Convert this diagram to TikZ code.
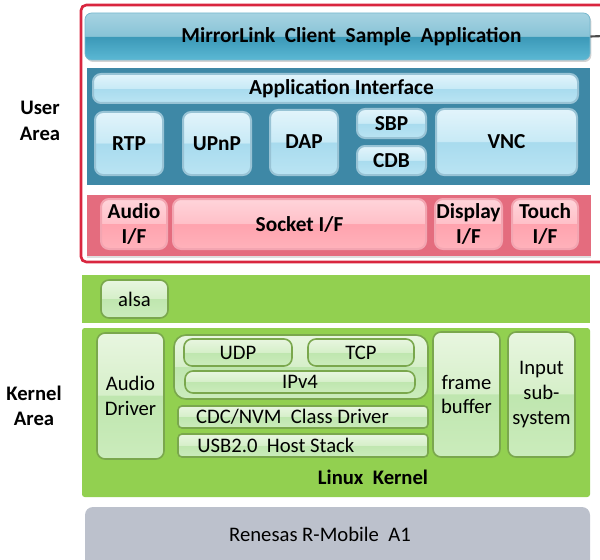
\documentclass[tikz,border=0pt]{standalone}
\usepackage{fontspec}
\setmainfont{Carlito}
\usetikzlibrary{shadows}

\definecolor{barA}{HTML}{A6D3E2}
\definecolor{barB}{HTML}{88C3D6}
\definecolor{barC}{HTML}{3B98B7}
\definecolor{barD}{HTML}{5BB8D4}
\definecolor{bluA}{HTML}{E2F4FB}
\definecolor{bluB}{HTML}{C8EAF6}
\definecolor{bluC}{HTML}{A8DBEE}
\definecolor{bluD}{HTML}{BAE4F3}
\definecolor{pnkA}{HTML}{FFD4DA}
\definecolor{pnkB}{HTML}{FFC0C8}
\definecolor{pnkC}{HTML}{FFA3AE}
\definecolor{pnkD}{HTML}{FFB2BB}
\definecolor{grnA}{HTML}{E8F6E0}
\definecolor{grnB}{HTML}{D6EFC9}
\definecolor{grnC}{HTML}{BFE6AF}
\definecolor{grnD}{HTML}{CBECBC}
\definecolor{bluePanel}{HTML}{3E88A6}
\definecolor{pinkPanel}{HTML}{E46C7E}
\definecolor{greenPanel}{HTML}{92D050}
\definecolor{socPanel}{HTML}{BCC1CC}
\definecolor{userFrame}{HTML}{D9263F}

% glossy vertical shadings: lighter upper half, step at the middle
\pgfdeclareverticalshading{glossbar}{100bp}{color(0bp)=(barD); color(25bp)=(barD); color(50bp)=(barC); color(50.6bp)=(barB); color(75bp)=(barA); color(100bp)=(barA)}
\pgfdeclareverticalshading{glossblue}{100bp}{color(0bp)=(bluD); color(25bp)=(bluD); color(50bp)=(bluC); color(50.6bp)=(bluB); color(75bp)=(bluA); color(100bp)=(bluA)}
\pgfdeclareverticalshading{glosspink}{100bp}{color(0bp)=(pnkD); color(25bp)=(pnkD); color(50bp)=(pnkC); color(50.6bp)=(pnkB); color(75bp)=(pnkA); color(100bp)=(pnkA)}
\pgfdeclareverticalshading{glossgreen}{100bp}{color(0bp)=(grnD); color(25bp)=(grnD); color(50bp)=(grnC); color(50.6bp)=(grnB); color(75bp)=(grnA); color(100bp)=(grnA)}

\tikzset{
  panel/.style={draw=none, inner sep=0pt},
  gbar/.style={panel, rounded corners=5pt, shading=glossbar, draw=barC!70,
    line width=0.6pt, font=\bfseries\fontsize{16}{19}\selectfont},
  bbox/.style={panel, rounded corners=6pt, shading=glossblue, draw=bluePanel!45!bluA,
    line width=1.5pt, font=\bfseries\fontsize{16}{19}\selectfont, align=center},
  pbox/.style={panel, rounded corners=6pt, shading=glosspink, draw=pinkPanel!45!pnkA,
    line width=1.5pt, font=\bfseries\fontsize{16}{19}\selectfont, align=center},
  gbox/.style={panel, rounded corners=6pt, shading=glossgreen, draw=greenPanel!75!black!85!grnC,
    line width=1.2pt, font=\fontsize{15.5}{18.6}\selectfont, align=center},
  gtext/.style={font=\fontsize{15.5}{18.6}\selectfont, anchor=west, inner sep=0pt},
  sidelabel/.style={font=\bfseries\fontsize{15.5}{19}\selectfont, align=center},
}

% place a node by its corner coordinates (pixels, y downwards)
\newcommand\blk[7]{\node[#1, minimum width={(#5-#3)*0.75pt}, minimum height={(#6-#4)*0.75pt}]
  (#2) at ({(#3+#5)/2},{(#4+#6)/2}) {#7};}

\begin{document}
\begin{tikzpicture}[x=0.75pt,y=-0.75pt]
\useasboundingbox (0,0) rectangle (600,560);

% ---- user area ----
\draw[userFrame, line width=2pt, rounded corners=4pt] (81,5) rectangle (620,262);
\coordinate (stubEnd) at (604,36);
\blk{gbar, drop shadow={opacity=0.35, shadow xshift=1pt, shadow yshift=-1.5pt}}{app}{85}{13}{590}{60}{\hspace*{21pt}MirrorLink\ \ Client\ \ Sample\ \ Application}
\draw[black!70, line width=1.6pt] (app.east) -- (stubEnd);

\blk{panel, fill=bluePanel}{bpanel}{87}{68}{590}{185}{}
\blk{bbox}{api}{93}{74}{578}{103}{\hspace*{9pt}Application Interface}
\blk{bbox}{rtp}{95}{112}{163}{175}{RTP}
\blk{bbox}{upnp}{183}{112}{251}{175}{UPnP}
\blk{bbox}{dap}{270}{110}{338}{175}{\raisebox{2pt}{DAP}}
\blk{bbox}{sbp}{357}{109}{426}{138}{SBP}
\blk{bbox}{cdb}{357}{146}{426}{175}{CDB}
\blk{bbox}{vnc}{436}{109}{577}{175}{VNC}

\blk{panel, fill=pinkPanel, drop shadow={opacity=0.25, shadow xshift=0pt, shadow yshift=-1.5pt}}{ppanel}{87}{195}{591}{256}{}
\blk{pbox}{audioif}{101}{199}{167}{249}{Audio\\I/F}
\blk{pbox}{sockif}{173}{199}{426}{249}{Socket I/F}
\blk{pbox}{dispif}{435}{199}{502}{249}{Display\\I/F}
\blk{pbox}{touchif}{512}{199}{578}{249}{Touch\\I/F}

% ---- kernel area ----
\blk{panel, fill=greenPanel}{alsapanel}{82}{275}{590}{323}{}
\blk{gbox}{alsa}{101}{280}{168}{318}{alsa}

\blk{panel, fill=greenPanel, rounded corners=2pt}{kpanel}{82}{328}{590}{497}{}
\blk{gbox}{audiodrv}{97}{333}{164}{459}{Audio\\Driver}
\blk{gbox, rounded corners=9pt}{netgrp}{174}{335}{428}{399}{}
\blk{gbox}{udp}{184}{339}{292}{366}{UDP}
\blk{gbox}{tcp}{308}{339}{414}{366}{TCP}
\blk{gbox}{ipv}{185}{371}{415}{393}{IPv4}
\blk{gbox, rounded corners=3pt}{cdc}{178}{406}{428}{428}{}
\node[gtext] (cdctext) at ([xshift=14pt]cdc.west) {CDC/NVM\ \ Class Driver};
\blk{gbox, rounded corners=3pt}{usb}{178}{434}{428}{457}{}
\node[gtext] (usbtext) at ([xshift=15pt]usb.west) {USB2.0\ \ Host Stack};
\blk{gbox}{fb}{433}{332}{500}{457}{frame\\buffer}
\blk{gbox}{input}{508}{332}{575}{457}{Input\\sub-\\system}
\node[font=\bfseries\fontsize{15.5}{18}\selectfont] (lk) at (373,477) {Linux\ \ Kernel};

% ---- SoC ----
\blk{panel, fill=socPanel, rounded corners=6pt}{soc}{85}{507}{590}{570}{}
\node[font=\fontsize{15.5}{18}\selectfont] (soclbl) at (320,534) {Renesas R-Mobile\ \ A1};

% ---- side labels ----
\node[sidelabel] (user) at (40,121) {User\\Area};
\node[sidelabel] (kernel) at (34,406) {Kernel\\Area};
\end{tikzpicture}
\end{document}
